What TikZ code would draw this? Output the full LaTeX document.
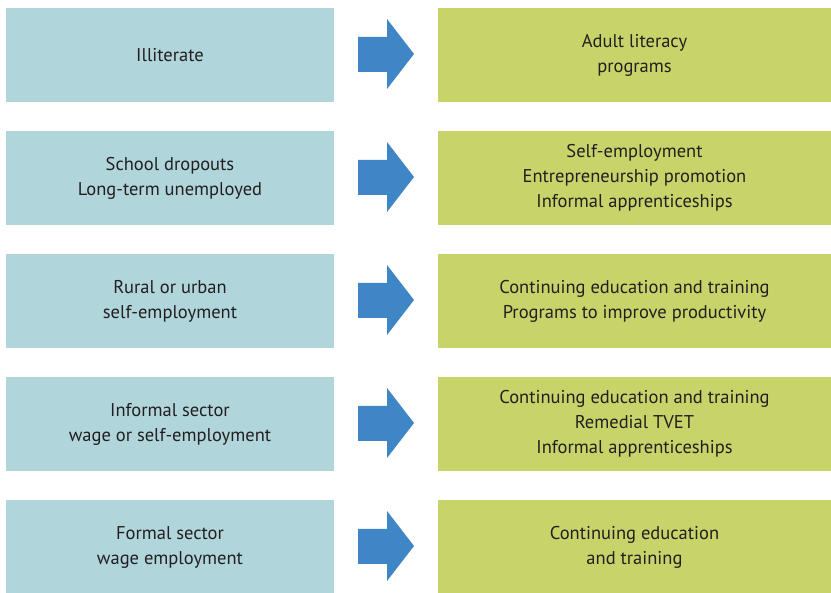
\documentclass[tikz,border=0pt]{standalone}
\usepackage{fontspec}
\setmainfont{PT Sans}
\definecolor{lbox}{HTML}{B0D5DB}
\definecolor{rbox}{HTML}{C8D36A}
\definecolor{arr}{HTML}{3F86C6}
\definecolor{txt}{HTML}{231F20}
\begin{document}
\begin{tikzpicture}[x=1pt,y=-1pt,
  lstyle/.style={fill=lbox,draw=none,minimum width=328pt,minimum height=94pt,inner sep=0pt,align=center,text=txt,font=\fontsize{18.5}{25}\selectfont},
  rstyle/.style={fill=rbox,draw=none,minimum width=393pt,minimum height=94pt,inner sep=0pt,align=center,text=txt,font=\fontsize{18.5}{25}\selectfont},
  arrstyle/.style={fill=arr,draw=none}]
\useasboundingbox (0,0) rectangle (831,593);
\clip (0,0) rectangle (831,593);
\foreach \t/\i in {8/1,131/2,254/3,377/4,500/5}{
  \coordinate (c\i) at (0,\t+47);
}
\node[lstyle] (l1) at (170,55) {Illiterate};
\node[rstyle] (r1) at (634.5,55) {Adult literacy\\programs};
\node[lstyle] (l2) at (170,178) {School dropouts\\Long-term unemployed};
\node[rstyle] (r2) at (634.5,178) {Self-employment\\Entrepreneurship promotion\\Informal apprenticeships};
\node[lstyle] (l3) at (170,301) {Rural or urban\\self-employment};
\node[rstyle] (r3) at (634.5,301) {Continuing education and training\\Programs to improve productivity};
\node[lstyle] (l4) at (170,424) {Informal sector\\wage or self-employment};
\node[rstyle] (r4) at (634.5,424) {Continuing education and training\\Remedial TVET\\Informal apprenticeships};
\node[lstyle] (l5) at (170,547) {Formal sector\\wage employment};
\node[rstyle] (r5) at (634.5,547) {Continuing education\\and training};
\foreach \i/\cy in {1/54,2/177,3/300,4/423,5/546}{
  \fill[arrstyle] (358,\cy-17) -- (387,\cy-17) -- (387,\cy-35) -- (414,\cy) -- (387,\cy+35) -- (387,\cy+18) -- (358,\cy+18) -- cycle;
}
\end{tikzpicture}
\end{document}
